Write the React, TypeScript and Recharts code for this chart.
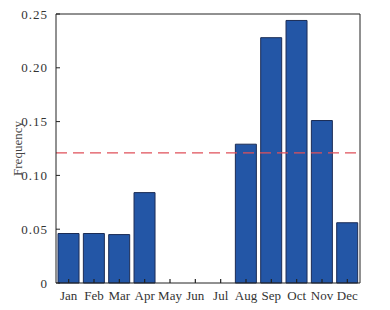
import { BarChart, Bar, XAxis, YAxis, ReferenceLine } from 'recharts'

const months = ['Jan', 'Feb', 'Mar', 'Apr', 'May', 'Jun', 'Jul', 'Aug', 'Sep', 'Oct', 'Nov', 'Dec']
const frequency = [0.046, 0.046, 0.045, 0.084, 0, 0, 0, 0.129, 0.228, 0.244, 0.151, 0.056]
const yTicks = [0, 0.05, 0.1, 0.15, 0.2, 0.25]
const threshold = 0.121

const data = months.map((m, i) => ({ month: m, value: frequency[i] }))

const font = '"Liberation Serif", serif'
const textStyle = { fontFamily: font, fontSize: 13 }

// label sits 8px outside the axis; inward tick drawn 4px from the axis line
function XTick({ x, y, payload }: any) {
  return (
    <g>
      <line x1={x} x2={x} y1={y - 8} y2={y - 12} stroke="#222" strokeWidth={1.2} />
      <text x={x} y={y} dy="0.71em" textAnchor="middle" fill="#333" style={textStyle}>
        {payload.value}
      </text>
    </g>
  )
}

function YTick({ x, y, payload }: any) {
  const v = payload.value as number
  return (
    <g>
      <line x1={x + 8} x2={x + 12} y1={y} y2={y} stroke="#222" />
      <text x={x} y={y} dy="0.355em" textAnchor="end" fill="#333" style={{ ...textStyle, letterSpacing: 1 }}>
        {v === 0 ? '0' : v.toFixed(2)}
      </text>
    </g>
  )
}

function FreqLabel({ viewBox }: any) {
  const cy = viewBox.y + viewBox.height / 2
  return (
    <text
      x={22}
      y={cy}
      transform={`rotate(-90 22 ${cy})`}
      textAnchor="middle"
      fill="#444"
      style={textStyle}
    >
      Frequency
    </text>
  )
}

export default function App() {
  return (
    <div style={{ position: 'absolute', left: 0, top: 0, background: '#fff' }}>
      <BarChart
        width={390}
        height={310}
        data={data}
        margin={{ top: 13, right: 29, left: 0, bottom: 0 }}
        barCategoryGap="8%"
      >
        <XAxis
          dataKey="month"
          tick={<XTick />}
          tickLine={false}
          tickSize={-4}
          tickMargin={12}
          stroke="#222"
          height={27}
          interval={0}
        />
        <XAxis xAxisId="top" orientation="top" dataKey="month" tick={false} tickLine={false} height={1} stroke="#222" />
        <YAxis
          domain={[0, 0.25]}
          ticks={yTicks}
          tick={<YTick />}
          tickLine={false}
          tickSize={-4}
          tickMargin={12}
          stroke="#222"
          width={56}
          label={<FreqLabel />}
        />
        <YAxis yAxisId="right" orientation="right" domain={[0, 0.25]} tick={false} tickLine={false} width={1} stroke="#222" />
        <Bar dataKey="value" fill="#2356a6" stroke="#1b2c55" strokeWidth={1} isAnimationActive={false} />
        <ReferenceLine y={threshold} stroke="#e0505a" strokeWidth={1.3} strokeDasharray="11 6" />
      </BarChart>
    </div>
  )
}
